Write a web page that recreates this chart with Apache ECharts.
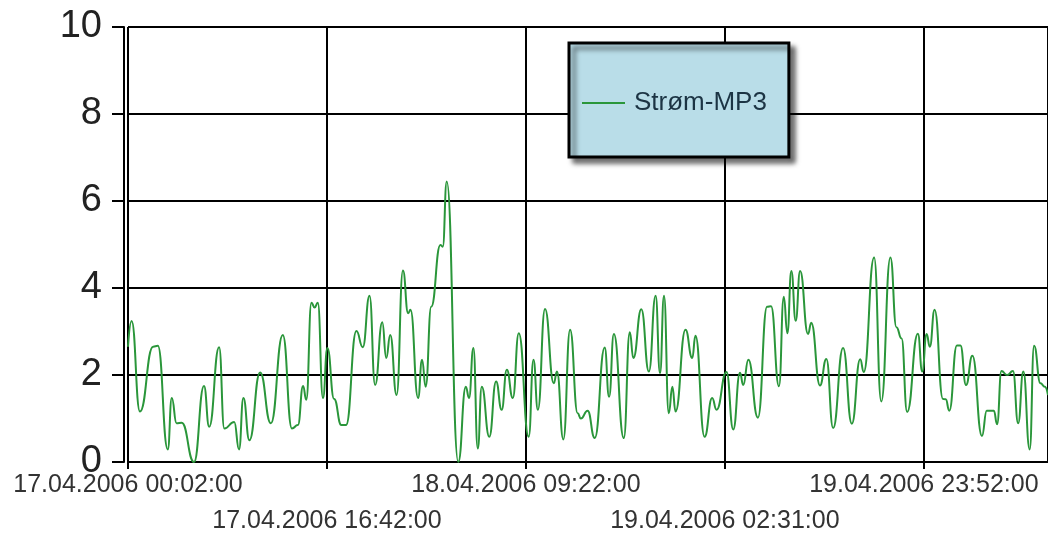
<!DOCTYPE html>
<html>
<head>
<meta charset="utf-8">
<script src="https://cdn.jsdelivr.net/npm/echarts@6/dist/echarts.min.js"></script>
<style>
html,body{margin:0;padding:0;background:#fff;}
#chart{width:1048px;height:536px;}
</style>
</head>
<body>
<div id="chart"></div>
<script>
// Sample number (50 samples between labelled ticks) and measured values
const sampleIndex = [0,0.9,3.0,6.3,7.5,10.0,11.0,12.2,13.5,16.6,19.1,20.4,22.9,24.2,26.7,27.9,29.0,30.5,33.2,35.9,
  38.9,41.2,42.7,44.0,44.8,46.1,46.9,47.7,49.0,50.1,51.8,53.6,54.8,57.4,59.0,60.7,62.1,63.9,64.9,65.9,
  67.5,69.1,70.4,71.0,72.9,73.9,74.8,76.2,78.5,79.1,80.1,83.0,84.9,85.7,86.8,87.9,88.9,90.8,92.5,93.9,
  95.2,96.7,98.2,100.7,101.9,103.0,104.8,107.0,107.8,109.4,111.1,113.0,113.8,115.5,117.3,119.8,120.9,122.1,124.6,126.1,
  127.0,129.0,130.9,132.6,133.7,134.7,135.9,136.8,137.6,140.1,141.8,142.6,144.9,146.8,147.9,150.4,152.1,153.8,154.6,155.9,
  158.3,160.6,161.6,163.6,164.8,165.7,166.7,167.8,168.9,170.9,171.7,173.9,175.5,177.2,179.7,181.9,184.0,184.9,187.5,189.3,
  191.6,193.1,194.4,195.8,198.5,199.6,200.7,201.5,202.7,204.8,205.5,206.4,208.3,209.2,210.6,212.2,214.6,215.8,217.6,218.4,
  219.5,220.9,222.4,223.7,225.0,226.6,227.7,229.3,230.4,231.2];
const stromMP3 = [2.65,3.24,1.16,2.65,2.67,0.29,1.47,0.89,0.9,0.0,1.75,0.81,2.64,0.77,0.92,0.29,1.47,0.5,2.06,0.89,
  2.92,0.77,0.85,1.75,1.43,3.66,3.55,3.66,1.47,2.62,1.45,0.85,0.85,3.01,2.64,3.82,1.77,3.21,2.39,2.92,
  1.54,4.40,3.42,3.5,1.47,2.35,1.73,3.57,4.99,4.95,6.45,0.0,1.73,1.47,2.62,0.31,1.73,0.58,1.85,1.2,
  2.12,1.47,2.96,0.58,2.35,1.2,3.52,1.81,2.08,0.52,3.04,1.12,1.0,1.18,0.55,2.63,1.5,2.94,0.55,2.98,
  2.39,3.51,2.08,3.82,2.04,3.82,1.12,1.73,1.16,3.04,2.39,2.9,0.58,1.47,1.2,2.07,0.75,2.05,1.77,2.35,
  1.02,3.57,3.58,1.74,3.8,2.96,4.39,3.25,4.39,2.94,3.2,1.76,2.37,0.78,2.62,0.88,2.36,2.07,4.7,1.39,
  4.7,3.1,2.84,1.15,2.95,2.08,2.94,2.65,3.5,1.45,1.44,1.18,2.68,2.68,1.77,2.44,0.6,1.18,1.18,0.87,
  2.09,2.0,2.09,0.89,2.08,0.29,2.67,1.81,1.73,1.54];
const tickLabels = ['17.04.2006 00:02:00','17.04.2006 16:42:00','18.04.2006 09:22:00','19.04.2006 02:31:00','19.04.2006 23:52:00'];
const seriesName = 'Strøm-MP3';
const yMin = 0, yMax = 10, yStep = 2;
const samplesPerTick = 50;

const chart = echarts.init(document.getElementById('chart'), null, {renderer:'canvas'});
const data = sampleIndex.map((x, i) => [x, stromMP3[i]]);
const font = '"Liberation Sans", Arial, sans-serif';
const xMax = sampleIndex[sampleIndex.length - 1];

function labelFor(v, parity) {
  const i = Math.round(v / samplesPerTick);
  if (Math.abs(v - i * samplesPerTick) > 1e-6 || !tickLabels[i] || i % 2 !== parity) return '';
  return tickLabels[i];
}

chart.setOption({
  animation: false,
  backgroundColor: '#ffffff',
  grid: {left: 128, right: 0, top: 27, bottom: 74, containLabel: false},
  legend: {
    show: true,
    left: 569, top: 43,
    orient: 'horizontal',
    padding: [45, 22, 39, 13],
    backgroundColor: '#b9dde8',
    borderColor: '#000',
    borderWidth: 3,
    shadowColor: 'rgba(0,0,0,0.55)',
    shadowBlur: 5,
    shadowOffsetX: 5,
    shadowOffsetY: 5,
    icon: 'rect',
    itemWidth: 43,
    itemHeight: 2,
    textStyle: {fontFamily: font, fontSize: 26, color: '#1c3444', lineHeight: 30, padding: [0,0,0,4]},
    data: [seriesName]
  },
  xAxis: [{
    type: 'value',
    position: 'bottom',
    min: 0,
    max: xMax,
    interval: samplesPerTick,
    axisLine: {show: true, onZero: false, lineStyle: {color: '#000', width: 2}},
    axisTick: {show: true, length: 7, lineStyle: {color: '#000', width: 2}},
    splitLine: {show: true, lineStyle: {color: '#000', width: 2}},
    axisLabel: {
      show: true,
      showMinLabel: true,
      showMaxLabel: false,
      margin: 11,
      fontFamily: font,
      fontSize: 25,
      color: '#333',
      formatter: function (v) { return labelFor(v, 0); }
    }
  }, {
    type: 'value',
    position: 'bottom',
    min: 0,
    max: xMax,
    interval: samplesPerTick,
    axisLine: {show: false, onZero: false},
    axisTick: {show: false},
    splitLine: {show: false},
    axisLabel: {
      show: true,
      showMinLabel: true,
      showMaxLabel: false,
      margin: 47,
      fontFamily: font,
      fontSize: 25,
      color: '#333',
      formatter: function (v) { return labelFor(v, 1); }
    }
  }],
  yAxis: {
    type: 'value',
    min: yMin, max: yMax, interval: yStep,
    offset: 4,
    axisLine: {show: true, onZero: false, lineStyle: {color: '#000', width: 2}},
    axisTick: {show: true, length: 12, lineStyle: {color: '#000', width: 2}},
    splitLine: {show: true, lineStyle: {color: '#000', width: 2}},
    axisLabel: {margin: 22, fontFamily: font, fontSize: 38, color: '#222'}
  },
  series: [{
    name: seriesName,
    type: 'line',
    xAxisIndex: 0,
    data: data,
    showSymbol: false,
    symbol: 'none',
    smooth: 0.5,
    smoothMonotone: 'x',
    color: '#2a963a',
    lineStyle: {color: '#2a963a', width: 2}
  }]
});
</script>
</body>
</html>
